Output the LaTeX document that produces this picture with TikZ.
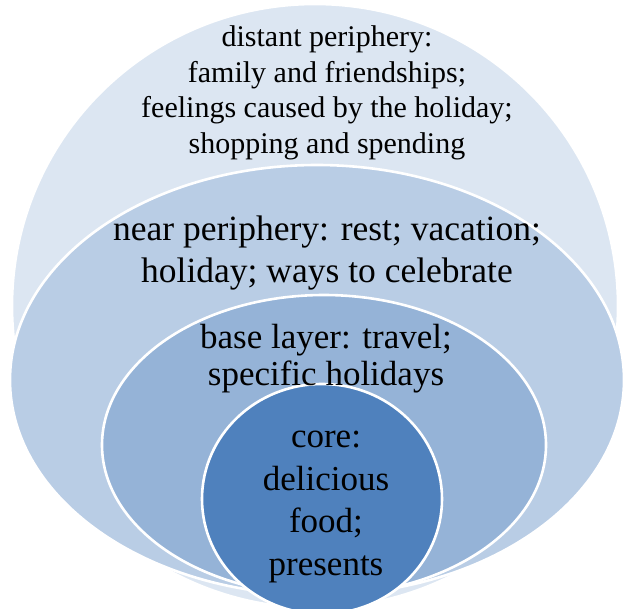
\documentclass[tikz,border=0pt]{standalone}
\usepackage{fontspec}
\setmainfont{Liberation Serif}
\usetikzlibrary{shapes.geometric}

\definecolor{distantblue}{HTML}{DCE6F2}
\definecolor{nearblue}{HTML}{B9CDE5}
\definecolor{baseblue}{HTML}{95B3D7}
\definecolor{coreblue}{HTML}{4F81BD}

\tikzset{
    layer/.style={ellipse, draw=white, line width=2.6pt, inner sep=0pt},
    layertext/.style={align=center, text=black, inner sep=0pt}
}

\begin{document}
\begin{tikzpicture}[x=1pt, y=-1pt]
\begin{scope}
    \useasboundingbox (0, 0) rectangle (628, 608);

    % Define layers, from the outside in
    \node[layer, fill=distantblue, minimum width=606pt, minimum height=604pt] (distant) at (315, 306) {};
    \node[layer, fill=nearblue, minimum width=614pt, minimum height=430pt] (near) at (317, 380) {};
    \node[layer, fill=baseblue, minimum width=444pt, minimum height=300pt] (base) at (324, 445) {};
    \node[layer, fill=coreblue, minimum width=240pt, minimum height=230pt] (core) at (322, 499) {};

    % Labels
    \node[layertext, font=\fontsize{30}{35.5}\selectfont] (distanttext) at (327, 93)
        {distant periphery:\\family and friendships;\\feelings caused by the holiday;\\shopping and spending};
    \node[layertext, font=\fontsize{35.5}{42}\selectfont] (neartext) at (327, 253)
        {near periphery: rest; vacation;\\holiday; ways to celebrate};
    \node[layertext, font=\fontsize{35}{37}\selectfont] (basetext) at (326, 359)
        {base layer: travel;\\specific holidays};
    \node[layertext, font=\fontsize{35}{42.5}\selectfont] (coretext) at (326, 507)
        {core:\\delicious\\food;\\presents};
\end{scope}
\end{tikzpicture}
\end{document}
